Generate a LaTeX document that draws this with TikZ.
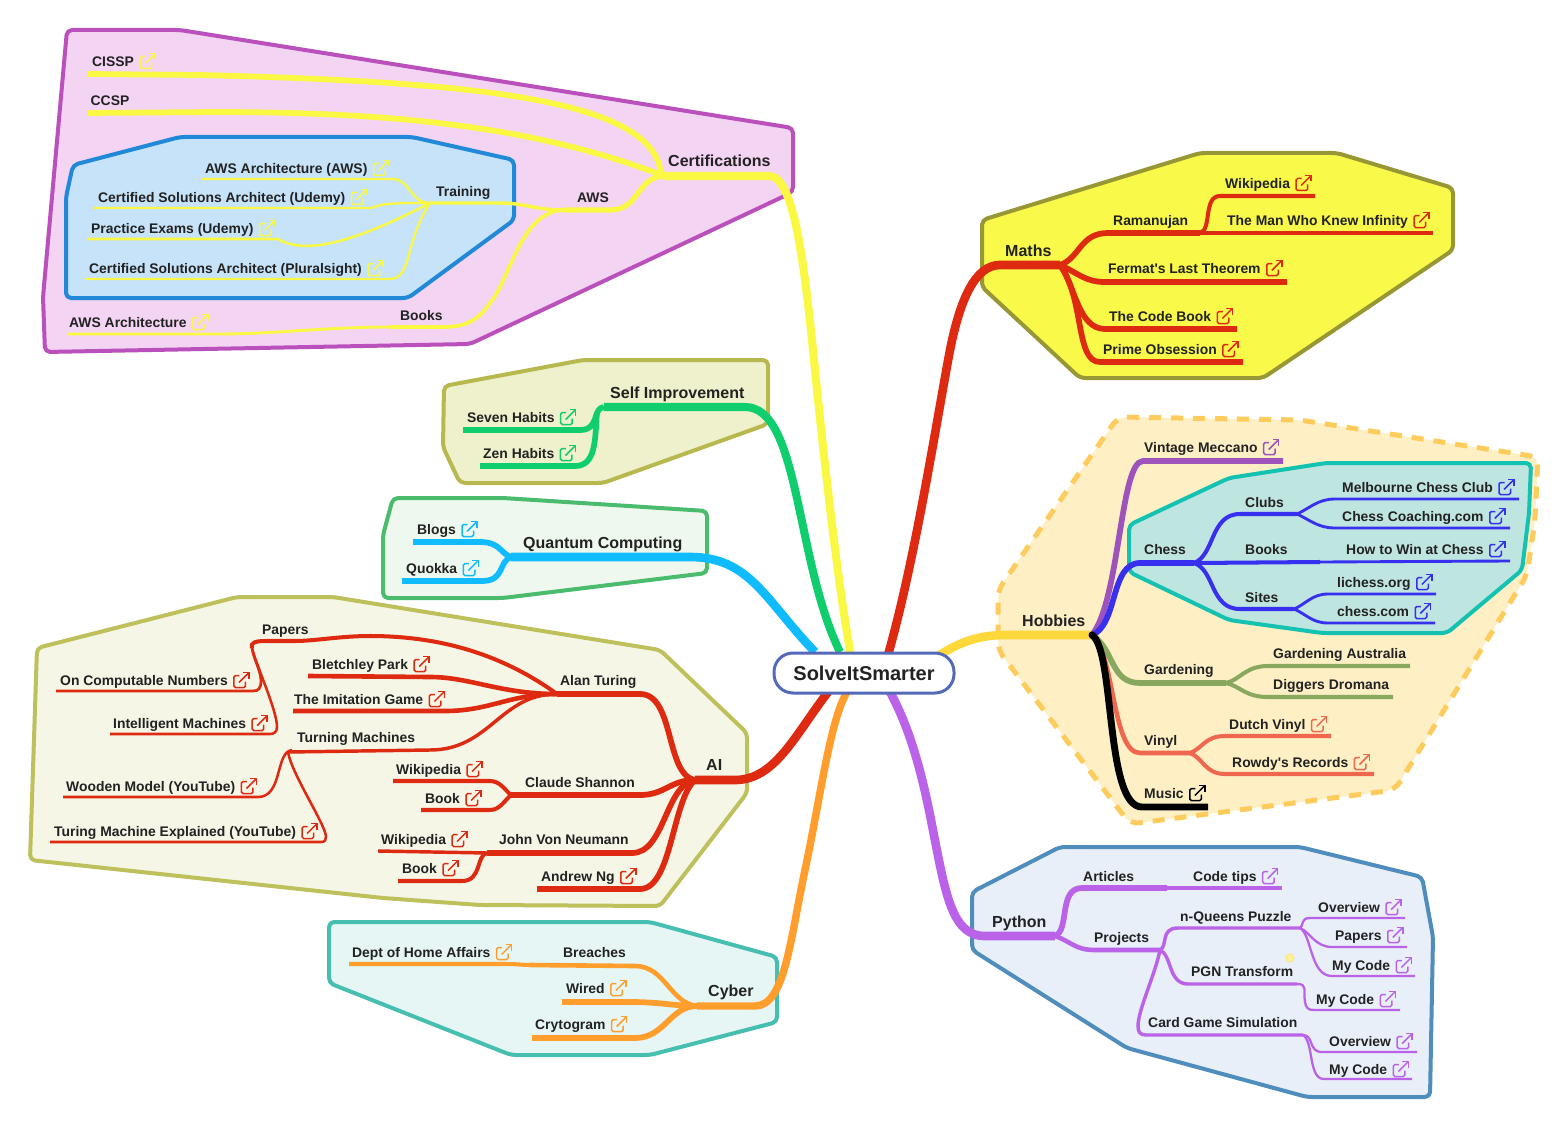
\documentclass[tikz,border=0pt]{standalone}
\usepackage{fontspec}
\setmainfont{Liberation Sans}
\definecolor{ink}{HTML}{222222}
\definecolor{cYel}{HTML}{FAF843}
\definecolor{cGreen}{HTML}{10CE6E}
\definecolor{cBlue}{HTML}{10BBFF}
\definecolor{cRed}{HTML}{DF2A12}
\definecolor{cOrange}{HTML}{FF9E2C}
\definecolor{cPurple}{HTML}{BA63E8}
\definecolor{cGold}{HTML}{FFD93B}
\definecolor{cViolet}{HTML}{9D52BC}
\definecolor{cIndigo}{HTML}{3730EE}
\definecolor{cOlive}{HTML}{89A85F}
\definecolor{cCoral}{HTML}{F0674F}
\definecolor{fCert}{HTML}{F4D4F3}\definecolor{sCert}{HTML}{BA50BC}
\definecolor{fAws}{HTML}{C6E3F9}\definecolor{sAws}{HTML}{2189D8}
\definecolor{fSelf}{HTML}{EFF1CC}\definecolor{sSelf}{HTML}{B7B94E}
\definecolor{fQuant}{HTML}{EEF8EE}\definecolor{sQuant}{HTML}{4BBB6E}
\definecolor{fAI}{HTML}{F5F6E6}\definecolor{sAI}{HTML}{BEC05C}
\definecolor{fCyb}{HTML}{E6F6F4}\definecolor{sCyb}{HTML}{46BFB0}
\definecolor{fMath}{HTML}{F9F94A}\definecolor{sMath}{HTML}{979735}
\definecolor{fHob}{HTML}{FEEFC4}\definecolor{sHob}{HTML}{FECB5D}
\definecolor{fChess}{HTML}{BFE5E1}\definecolor{sChess}{HTML}{13C2B0}
\definecolor{fPy}{HTML}{E8EFF8}\definecolor{sPy}{HTML}{4F8DBD}
\definecolor{fDot}{HTML}{FFEE9B}\definecolor{sDot}{HTML}{FDE67C}
\definecolor{sRoot}{HTML}{5569B9}
\tikzset{
  lab/.style={anchor=west,inner sep=0pt,text height=11pt,text depth=0pt,text=ink,font=\bfseries\fontsize{13.9}{16}\selectfont},
  labB/.style={lab,text height=13pt,font=\bfseries\fontsize{16}{18}\selectfont},
  ln/.style={line width=1.15*#1,line cap=butt,line join=round},
  blob/.style 2 args={fill=#1,draw=#2,line width=4pt,rounded corners=5pt,line join=round},
  extlink/.pic={
    \draw[line width=1.5pt,rounded corners=1.5pt] (5.5,-4.5) -- (0,-4.5) -- (0,7.5) -- (11.5,7.5) -- (11.5,1.5);
    \draw[line width=1.5pt] (5,2.5) -- (15,-7.5);
    \draw[line width=1.5pt] (9,-7.5) -- (15,-7.5) -- (15,-1.5);
  }
}
\newcommand\lbl[3]{\node[lab] (#1) at (#2) {#3};}
\newcommand\lblB[3]{\node[labB] (#1) at (#2) {#3};}
\newcommand\lnk[4]{\node[lab] (#1) at (#2) {#3};\pic[color=#4] at ([xshift=6pt]#1.east) {extlink};}
\begin{document}
\begin{tikzpicture}[x=1pt,y=-1pt]
\useasboundingbox (0,0) rectangle (1568,1126);
% ---------- regions
\path[blob={fCert}{sCert}] (67,30) -- (180,30) -- (793,128) -- (793,192) -- (470,344) -- (45,352) -- (43,297) -- cycle;
\path[blob={fAws}{sAws}] (73,165) -- (180,137) -- (412,137) -- (514,160) -- (514,220) -- (408,298) -- (66,298) -- (66,197) -- cycle;
\path[blob={fSelf}{sSelf}] (444,386) -- (583,360) -- (768,360) -- (768,424) -- (603,483) -- (460,483) -- (443,447) -- cycle;
\path[blob={fQuant}{sQuant}] (393,498) -- (503,498) -- (707,511) -- (707,573) -- (503,598) -- (383,598) -- (383,535) -- cycle;
\path[blob={fAI}{sAI}] (37,648) -- (237,597) -- (333,597) -- (660,650) -- (747,733) -- (747,793) -- (660,906) -- (480,905) -- (383,898) -- (30,860) -- cycle;
\path[blob={fCyb}{sCyb}] (329,922) -- (650,922) -- (777,957) -- (777,1022) -- (650,1055) -- (511,1055) -- (329,983) -- cycle;
\path[blob={fMath}{sMath}] (982,220) -- (1200,153) -- (1337,153) -- (1453,188) -- (1453,250) -- (1263,378) -- (1080,378) -- (982,287) -- cycle;
\path[blob={fHob}{sHob},line width=5pt,rounded corners=9pt,dash pattern=on 12pt off 10pt] (1118,417) -- (1300,420) -- (1538,457) -- (1535,520) -- (1527,575) -- (1395,790) -- (1130,824) -- (998,650) -- (998,590) -- cycle;
\path[blob={fChess}{sChess}] (1129,525) -- (1229,478) -- (1326,463) -- (1531,463) -- (1529,513) -- (1522,570) -- (1447,633) -- (1322,633) -- (1229,620) -- (1129,572) -- cycle;
\path[blob={fPy}{sPy}] (972,892) -- (1060,847) -- (1300,847) -- (1422,877) -- (1433,937) -- (1430,1097) -- (1307,1097) -- (1127,1048) -- (972,950) -- cycle;
% ---------- junctions and free ends
\coordinate (rTop) at (851,655);
\coordinate (rGreen) at (840,652);
\coordinate (rBlue) at (815,652);
\coordinate (rRedL) at (828,692);
\coordinate (rOrange) at (847,692);
\coordinate (rRedR) at (888,655);
\coordinate (rGold) at (938,656);
\coordinate (rPurple) at (890,692);
\coordinate (jCert) at (664,176);
\coordinate (jAWS) at (563,210);
\coordinate (jTrain) at (430,203);
\coordinate (jBooks) at (390,327);
\coordinate (jSelf) at (597,412);
\coordinate (jQuant) at (511,557);
\coordinate (jAI) at (695,780);
\coordinate (jTuring) at (557,694);
\coordinate (jPapers) at (252,648);
\coordinate (jTM) at (288,752);
\coordinate (jShannon) at (511,795);
\coordinate (jNeumann) at (487,853);
\coordinate (jCyber) at (697,1006);
\coordinate (jBreach) at (530,965);
\coordinate (jMaths) at (1060,265);
\coordinate (jRam) at (1200,233);
\coordinate (jHob) at (1092,635);
\coordinate (jChess) at (1194,563);
\coordinate (jClubs) at (1297,514);
\coordinate (jBooksB) at (1320,562);
\coordinate (jSites) at (1294,609);
\coordinate (jGard) at (1226,683);
\coordinate (jVinyl) at (1190,753);
\coordinate (jPy) at (1055,936);
\coordinate (jArt) at (1167,888);
\coordinate (jProj) at (1160,950);
\coordinate (jQueens) at (1300,928);
\coordinate (jPGN) at (1297,984);
\coordinate (jCard) at (1303,1035);
% Certifications
\draw[cYel,ln=7pt] (jCert) -- (770,176) .. controls (795,178) and (805,270) .. (815,370) .. controls (825,470) and (840,600) .. (rTop);
\draw[cYel,ln=5pt] (88,74) -- (200,75) .. controls (480,82) and (661,100) .. (661,178);
\draw[cYel,ln=5pt] (88,113) -- (215,112) .. controls (400,112) and (540,128) .. (jCert);
\draw[cYel,ln=4.5pt] (jCert) .. controls (636,177) and (640,210) .. (610,210) -- (jAWS);
\draw[cYel,ln=3pt] (jAWS) .. controls (535,210) and (525,203) .. (500,203) -- (jTrain);
\draw[cYel,ln=3.2pt] (jAWS) .. controls (520,212) and (510,280) .. (490,303) .. controls (475,325) and (460,327) .. (440,327) -- (jBooks);
\draw[cYel,ln=2.5pt] (jBooks) .. controls (330,327) and (270,334) .. (220,334) -- (67,334);
\draw[cYel,ln=2pt] (202,179) -- (393,179) .. controls (410,179) and (410,203) .. (jTrain);
\draw[cYel,ln=2pt] (94,208) -- (372,208) .. controls (380,203) and (400,203) .. (jTrain);
\draw[cYel,ln=2.2pt] (87,239) -- (278,239) .. controls (300,252) and (340,250) .. (jTrain);
\draw[cYel,ln=2pt] (85,279) -- (390,279) .. controls (412,279) and (405,240) .. (jTrain);
% Self Improvement
\draw[cGreen,ln=7pt] (604,407) -- (745,407) .. controls (800,407) and (795,560) .. (rGreen);
\draw[cGreen,ln=5pt] (604,407) .. controls (592,408) and (600,430) .. (580,430) -- (463,430);
\draw[cGreen,ln=5pt] (jSelf) .. controls (595,440) and (596,466) .. (575,466) -- (480,466);
% Quantum
\draw[cBlue,ln=7.5pt] (jQuant) -- (690,557) .. controls (750,557) and (765,600) .. (rBlue);
\draw[cBlue,ln=5pt] (jQuant) .. controls (500,553) and (500,542) .. (480,542) -- (413,542);
\draw[cBlue,ln=5pt] (jQuant) .. controls (498,562) and (505,581) .. (482,581) -- (402,581);
% AI
\draw[cRed,ln=7.5pt] (jAI) -- (735,780) .. controls (775,780) and (795,735) .. (rRedL);
\draw[cRed,ln=5pt] (jTuring) -- (640,694) .. controls (675,694) and (665,775) .. (jAI);
\draw[cRed,ln=3.5pt] (jTuring) .. controls (510,660) and (450,636) .. (370,636) .. controls (340,636) and (315,641) .. (295,641) -- (265,641) .. controls (255,641) and (250,643) .. (jPapers);
\draw[cRed,ln=4pt] (jTuring) .. controls (500,694) and (470,677) .. (430,677) -- (308,676);
\draw[cRed,ln=4pt] (jTuring) .. controls (510,694) and (490,711) .. (445,711) -- (293,711);
\draw[cRed,ln=3pt] (jTuring) .. controls (500,694) and (490,750) .. (430,750) -- (jTM);
\draw[cRed,ln=2.4pt] (jPapers) .. controls (254,660) and (260,668) .. (261,680) .. controls (261,688) and (259,691) .. (253,691) -- (56,691);
\draw[cRed,ln=2.2pt] (jPapers) .. controls (256,665) and (277,710) .. (277,727) .. controls (277,732) and (274,734) .. (270,734) -- (110,734);
\draw[cRed,ln=2.2pt] (292,750) .. controls (275,752) and (283,797) .. (258,797) -- (63,797);
\draw[cRed,ln=2.2pt] (jTM) .. controls (292,775) and (326,825) .. (326,837) .. controls (326,840) and (325,842) .. (321,842) -- (50,842);
\draw[cRed,ln=5pt] (jShannon) -- (640,795) .. controls (665,795) and (670,780) .. (jAI);
\draw[cRed,ln=3.5pt] (jShannon) .. controls (505,790) and (500,781) .. (490,781) -- (393,781);
\draw[cRed,ln=3.5pt] (jShannon) .. controls (505,800) and (500,810) .. (490,810) -- (421,810);
\draw[cRed,ln=5pt] (jNeumann) -- (632,853) .. controls (665,853) and (665,785) .. (jAI);
\draw[cRed,ln=3pt] (jNeumann) -- (378,851);
\draw[cRed,ln=3.5pt] (jNeumann) .. controls (476,855) and (482,881) .. (462,881) -- (398,881);
\draw[cRed,ln=5pt] (jAI) .. controls (672,800) and (672,889) .. (640,889) -- (537,889);
% Cyber
\draw[cOrange,ln=6.5pt] (jCyber) -- (755,1006) .. controls (785,1006) and (790,940) .. (805,870) .. controls (820,800) and (830,720) .. (rOrange);
\draw[cOrange,ln=4pt] (jCyber) .. controls (670,1003) and (665,966) .. (635,966) -- (jBreach);
\draw[cOrange,ln=3.5pt] (jBreach) .. controls (522,965) and (518,964) .. (505,964) -- (349,964);
\draw[cOrange,ln=5pt] (jCyber) .. controls (675,1006) and (660,1002) .. (630,1002) -- (562,1002);
\draw[cOrange,ln=5pt] (jCyber) .. controls (670,1006) and (665,1038) .. (635,1038) -- (532,1038);
% Maths
\draw[cRed,ln=7.5pt] (jMaths) -- (1000,265) .. controls (975,265) and (960,300) .. (950,350) .. controls (935,430) and (915,560) .. (rRedR);
\draw[cRed,ln=5pt] (jMaths) .. controls (1080,258) and (1080,233) .. (1108,233) -- (jRam);
\draw[cRed,ln=3.5pt] (jRam) .. controls (1212,230) and (1203,196) .. (1220,196) -- (1315,196);
\draw[cRed,ln=3.5pt] (jRam) -- (1433,233);
\draw[cRed,ln=5pt] (jMaths) .. controls (1078,273) and (1085,282) .. (1105,282) -- (1287,282);
\draw[cRed,ln=5pt] (jMaths) .. controls (1075,285) and (1078,329) .. (1105,329) -- (1237,329);
\draw[cRed,ln=5pt] (jMaths) .. controls (1085,300) and (1075,362) .. (1100,362) -- (1243,362);
% Hobbies
\draw[cGold,ln=7.5pt] (jHob) -- (1005,635) .. controls (975,635) and (955,645) .. (rGold);
\draw[cViolet,ln=5pt] (jHob) .. controls (1120,600) and (1120,461) .. (1143,461) -- (1283,461);
\draw[cIndigo,ln=5pt] (jHob) .. controls (1118,625) and (1110,563) .. (1140,563) -- (jChess);
\draw[cIndigo,ln=3.5pt] (jChess) .. controls (1215,555) and (1210,514) .. (1240,514) -- (jClubs);
\draw[cIndigo,ln=2.5pt] (jClubs) .. controls (1310,508) and (1318,499) .. (1335,499) -- (1519,499);
\draw[cIndigo,ln=2.5pt] (jClubs) .. controls (1310,520) and (1318,528) .. (1335,528) -- (1510,528);
\draw[cIndigo,ln=3.5pt] (jChess) -- (jBooksB);
\draw[cIndigo,ln=2.5pt] (jBooksB) -- (1510,561);
\draw[cIndigo,ln=3.5pt] (jChess) .. controls (1215,570) and (1210,609) .. (1240,609) -- (jSites);
\draw[cIndigo,ln=2.5pt] (jSites) .. controls (1306,604) and (1312,594) .. (1328,594) -- (1436,594);
\draw[cIndigo,ln=2.5pt] (jSites) .. controls (1306,614) and (1312,623) .. (1328,623) -- (1435,623);
\draw[cOlive,ln=5pt] (jHob) .. controls (1115,650) and (1110,683) .. (1140,683) -- (jGard);
\draw[cOlive,ln=3.5pt] (jGard) .. controls (1240,680) and (1245,666) .. (1268,666) -- (1410,666);
\draw[cOlive,ln=3.5pt] (jGard) .. controls (1240,686) and (1245,697) .. (1268,697) -- (1393,697);
\draw[cCoral,ln=4pt] (jHob) .. controls (1115,655) and (1112,753) .. (1140,753) -- (jVinyl);
\draw[cCoral,ln=3.5pt] (jVinyl) .. controls (1203,748) and (1205,736) .. (1225,736) -- (1331,736);
\draw[cCoral,ln=3.5pt] (jVinyl) .. controls (1203,758) and (1205,774) .. (1225,774) -- (1374,774);
\draw[black,ln=6pt] (jHob) .. controls (1115,650) and (1105,807) .. (1142,807) -- (1208,807);
\fill[black] (jHob) circle (3.5pt);
% Python
\draw[cPurple,ln=7.5pt] (jPy) -- (985,936) .. controls (950,936) and (945,890) .. (930,815) .. controls (920,765) and (908,725) .. (rPurple);
\draw[cPurple,ln=5pt] (jPy) .. controls (1070,930) and (1058,888) .. (1082,888) -- (jArt);
\draw[cPurple,ln=4pt] (jArt) -- (1282,888);
\draw[cPurple,ln=4pt] (jPy) .. controls (1072,942) and (1075,950) .. (1095,950) -- (jProj);
\draw[cPurple,ln=3pt] (jProj) .. controls (1168,946) and (1160,928) .. (1178,928) -- (jQueens);
\draw[cPurple,ln=2pt] (jQueens) .. controls (1304,926) and (1300,918) .. (1310,918) -- (1405,918);
\draw[cPurple,ln=2pt] (jQueens) .. controls (1310,932) and (1315,947) .. (1332,947) -- (1407,947);
\draw[cPurple,ln=2pt] (jQueens) .. controls (1312,935) and (1310,976) .. (1332,976) -- (1415,976);
\draw[cPurple,ln=3pt] (jProj) .. controls (1172,955) and (1168,984) .. (1188,984) -- (jPGN);
\draw[cPurple,ln=2pt] (jPGN) .. controls (1308,984) and (1303,990) .. (1305,1002) .. controls (1306,1008) and (1308,1010) .. (1314,1010) -- (1400,1010);
\draw[cPurple,ln=3pt] (jProj) .. controls (1155,975) and (1138,1010) .. (1138,1026) .. controls (1138,1032) and (1140,1035) .. (1146,1035) -- (jCard);
\draw[cPurple,ln=2pt] (jCard) .. controls (1314,1035) and (1308,1052) .. (1322,1052) -- (1417,1052);
\draw[cPurple,ln=2pt] (jCard) .. controls (1314,1042) and (1308,1079) .. (1324,1079) -- (1412,1079);
% dot
\path[fill=fDot,draw=sDot,line width=1pt] (1290,958) circle (4pt);
% ---------- labels
\lnk{aCISSP}{92,61}{CISSP}{cYel}
\lbl{aCCSP}{90.5,100}{CCSP}
\lnk{aAA}{205,168}{AWS Architecture (AWS)}{cYel}
\lnk{aCSU}{98,197}{Certified Solutions Architect (Udemy)}{cYel}
\lnk{aPE}{91,228}{Practice Exams (Udemy)}{cYel}
\lnk{aCSP}{89,268}{Certified Solutions Architect (Pluralsight)}{cYel}
\lnk{aAWSb}{69,322}{AWS Architecture}{cYel}
\lbl{aTrain}{436,191}{Training}
\lbl{aAWS}{577,197}{AWS}
\lbl{aBooks}{400,315}{Books}
\lblB{aCert}{668,160}{Certifications}
\lnk{sSeven}{467,417}{Seven Habits}{cGreen}
\lnk{sZen}{483,453}{Zen Habits}{cGreen}
\lblB{sSelfI}{610,392}{Self Improvement}
\lnk{qBlogs}{417,529}{Blogs}{cBlue}
\lnk{qQuokka}{406,568}{Quokka}{cBlue}
\lblB{qQuant}{523,542}{Quantum Computing}
\lbl{iPapers}{262,629}{Papers}
\lnk{iBlet}{312,664}{Bletchley Park}{cRed}
\lnk{iImit}{294,699}{The Imitation Game}{cRed}
\lnk{iComp}{60,680}{On Computable Numbers}{cRed}
\lnk{iIntel}{113,723}{Intelligent Machines}{cRed}
\lbl{iTM}{297,737}{Turning Machines}
\lnk{iWood}{66,786}{Wooden Model (YouTube)}{cRed}
\lnk{iTME}{54,831}{Turing Machine Explained (YouTube)}{cRed}
\lbl{iAlan}{560,680}{Alan Turing}
\lbl{iClaude}{525,782}{Claude Shannon}
\lnk{iW1}{396,769}{Wikipedia}{cRed}
\lnk{iB1}{425,798}{Book}{cRed}
\lbl{iJohn}{499,839}{John Von Neumann}
\lnk{iW2}{381,839}{Wikipedia}{cRed}
\lnk{iB2}{402,868}{Book}{cRed}
\lnk{iNg}{541,876}{Andrew Ng}{cRed}
\lblB{iAI}{706,764}{AI}
\lnk{cDept}{352,952}{Dept of Home Affairs}{cOrange}
\lbl{cBreach}{563,952}{Breaches}
\lnk{cWired}{566,988}{Wired}{cOrange}
\lnk{cCry}{535,1024}{Crytogram}{cOrange}
\lblB{cCyber}{708,990}{Cyber}
\lblB{mMaths}{1005,250}{Maths}
\lbl{mRam}{1113,220}{Ramanujan}
\lnk{mWiki}{1225,183}{Wikipedia}{cRed}
\lnk{mMan}{1227,220}{The Man Who Knew Infinity}{cRed}
\lnk{mFer}{1108,268}{Fermat\textquotesingle s Last Theorem}{cRed}
\lnk{mCode}{1109,316}{The Code Book}{cRed}
\lnk{mPrime}{1103,349}{Prime Obsession}{cRed}
\lblB{hHob}{1022,620}{Hobbies}
\lnk{hVint}{1144,447}{Vintage Meccano}{cViolet}
\lbl{hChess}{1144,549}{Chess}
\lbl{hClubs}{1245,502}{Clubs}
\lnk{hMel}{1342,487}{Melbourne Chess Club}{cIndigo}
\lnk{hCC}{1342,516}{Chess Coaching.com}{cIndigo}
\lbl{hBooks}{1245,549}{Books}
\lnk{hHow}{1346,549}{How to Win at Chess}{cIndigo}
\lbl{hSites}{1245,597}{Sites}
\lnk{hLi}{1337,582}{lichess.org}{cIndigo}
\lnk{hChc}{1337,611}{chess.com}{cIndigo}
\lbl{hGard}{1144,669}{Gardening}
\lbl{hGA}{1273,653}{Gardening Australia}
\lbl{hDD}{1273,684}{Diggers Dromana}
\lbl{hVin}{1144,740}{Vinyl}
\lnk{hDV}{1229,724}{Dutch Vinyl}{cCoral}
\lnk{hRR}{1232,762}{Rowdy\textquotesingle s Records}{cCoral}
\lnk{hMus}{1144,793}{Music}{black}
\lblB{pPy}{992,921}{Python}
\lbl{pArt}{1083,876}{Articles}
\lnk{pTips}{1193,876}{Code tips}{cPurple}
\lbl{pProj}{1094,937}{Projects}
\lbl{pQ}{1180,916}{n-Queens Puzzle}
\lnk{pO1}{1318,907}{Overview}{cPurple}
\lnk{pPap}{1335,935}{Papers}{cPurple}
\lnk{pC1}{1332,965}{My Code}{cPurple}
\lbl{pPGN}{1191,971}{PGN Transform}
\lnk{pC2}{1316,999}{My Code}{cPurple}
\lbl{pCard}{1148,1022}{Card Game Simulation}
\lnk{pO2}{1329,1041}{Overview}{cPurple}
\lnk{pC3}{1329,1069}{My Code}{cPurple}
% ---------- root
\node[draw=sRoot,fill=white,line width=3pt,rounded corners=19pt,minimum width=180pt,minimum height=40pt,text=ink,font=\bfseries\fontsize{20}{22}\selectfont] (root) at (864,673) {SolveItSmarter};
\end{tikzpicture}
\end{document}
